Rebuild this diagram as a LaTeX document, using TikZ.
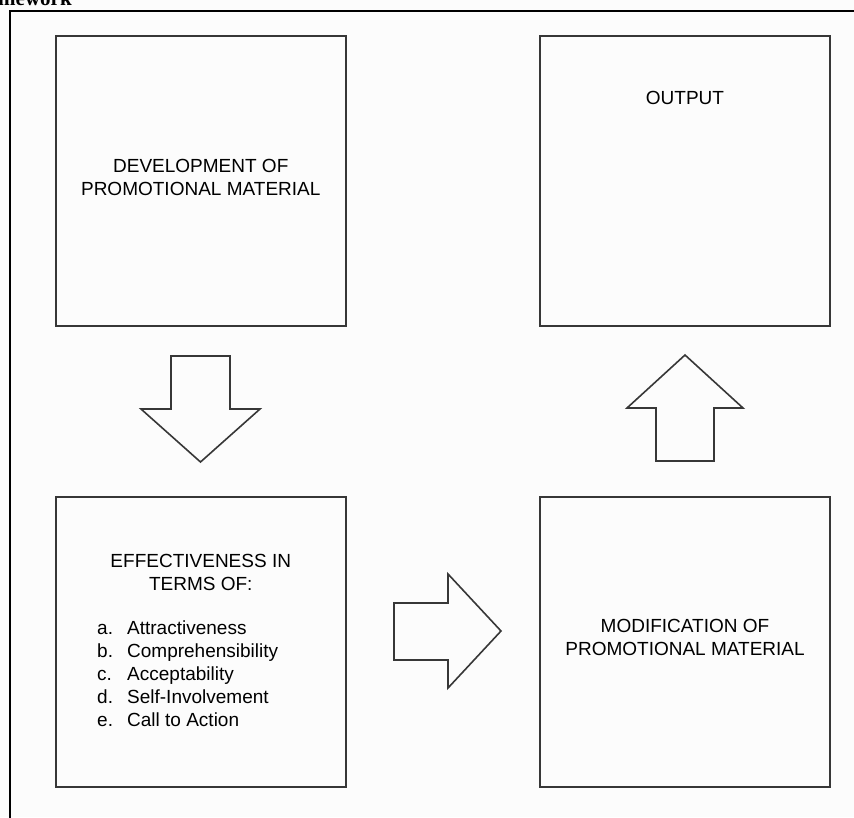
\documentclass[tikz,border=0pt]{standalone}
\usepackage{fontspec}
\setmainfont{Liberation Sans}
\newfontfamily\headfont{Liberation Serif}
\usetikzlibrary{positioning}
\definecolor{boxgray}{RGB}{55,55,55}
\definecolor{paper}{RGB}{252,252,252}

\begin{document}
\begin{tikzpicture}
[x=1pt,y=-1pt,box/.style={draw=boxgray,line width=2pt,minimum width=290pt,minimum height=290pt,inner sep=0pt},
blockarrow/.style={draw=boxgray,line width=1.6pt,line join=miter},
txt/.style={font=\fontsize{19}{23}\selectfont,align=center,inner sep=0pt},]

\useasboundingbox (0,0) rectangle (854,817);
\clip (0,0) rectangle (854,817);
\fill[paper] (0,0) rectangle (854,817);

%Box sizes
\def\lx{200.75}
\def\rx{685}
\def\ty{181}
\def\by{642}

%Caption cut at the top
\node[anchor=base west,inner sep=0pt,font=\headfont\bfseries\fontsize{21}{24}\selectfont] (ttl) at (-2,5) {mework};

%Outer frame
\coordinate (F1) at (10,830);
\coordinate (F2) at (10,11);
\coordinate (F3) at (870,11);
\draw[line width=2.4pt] (F1) -- (F2) -- (F3);

%Four boxes
\node[box] (dev) at (\lx,\ty) {};
\node[box] (out) at (\rx,\ty) {};
\node[box] (eff) at (\lx,\by) {};
\node[box] (mod) at (\rx,\by) {};

%Texts in the boxes
\node[txt] (devtxt) at (\lx,177.7) {DEVELOPMENT OF\\PROMOTIONAL MATERIAL};
\node[txt] (outtxt) at (\rx,98) {OUTPUT};
\node[txt] (efftxt) at (\lx,572.7) {EFFECTIVENESS IN\\TERMS OF:};
\node[txt,anchor=north west,align=left] (list) at (97,618)
{\begin{tabular}{@{}p{30pt}@{}l@{}}
a. & Attractiveness\\
b. & Comprehensibility\\
c. & Acceptability\\
d. & Self-Involvement\\
e. & Call to Action
\end{tabular}};
\node[txt] (modtxt) at (\rx,637.2) {MODIFICATION OF\\PROMOTIONAL MATERIAL};

%Down arrow
\draw[blockarrow] (171,356) -- (230,356) -- (230,409) -- (260,409) -- (200.5,462) -- (141,409) -- (171,409) -- cycle;

%Right arrow
\draw[blockarrow] (394,603) -- (448,603) -- (448,574) -- (501,631) -- (448,688) -- (448,660) -- (394,660) -- cycle;

%Up arrow
\draw[blockarrow] (656,461) -- (714,461) -- (714,408) -- (743,408) -- (685,355) -- (627,408) -- (656,408) -- cycle;

\end{tikzpicture}
\end{document}
